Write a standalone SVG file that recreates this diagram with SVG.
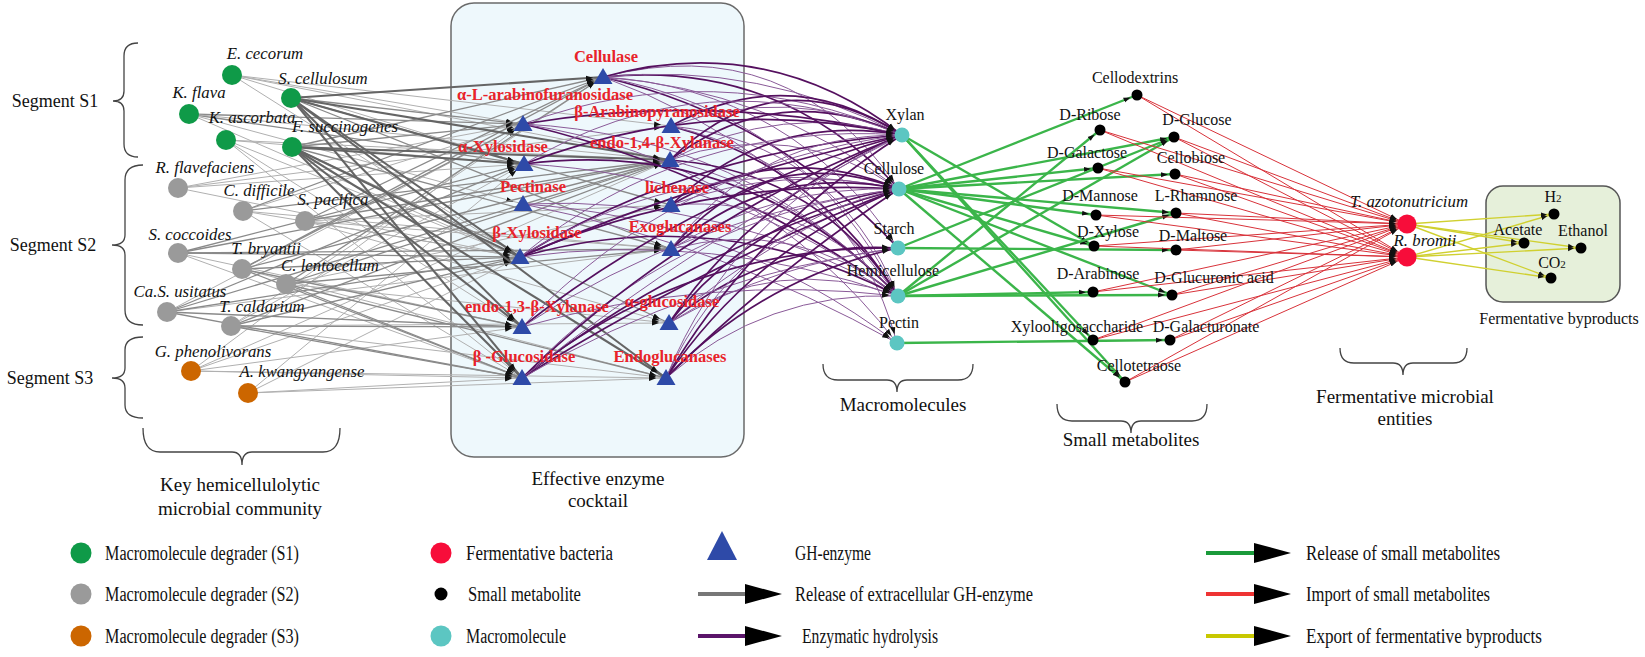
<svg xmlns="http://www.w3.org/2000/svg" width="1645" height="657" viewBox="0 0 1645 657" font-family="'Liberation Serif','Times New Roman',serif">
<style>
text{font-family:'Liberation Serif','Times New Roman',serif;font-size:16px;fill:#111;text-anchor:middle}
.sp{font-style:italic;font-size:16.8px}
.enz{font-weight:bold;fill:#e8232a;font-size:16.5px}
.seg{font-size:18px}
.grp{font-size:19px}
.leg{font-size:20px;text-anchor:start}
.brace{fill:none;stroke:#444;stroke-width:1.3}
.g1{stroke:#b0b0b0;stroke-width:1;marker-end:url(#ag)}
.g2{stroke:#8a8a8a;stroke-width:1.3;marker-end:url(#ag)}
.g3{stroke:#656565;stroke-width:2.1;marker-end:url(#ag)}
.p1{fill:none;stroke:#55105f;stroke-width:1.7;marker-end:url(#ap)}
.p2{fill:none;stroke:#8a5a98;stroke-width:1;marker-end:url(#ap)}
.gr{stroke:#3bb54a;stroke-width:2.4;marker-end:url(#agr)}
.rd{stroke:#d8323a;stroke-width:1;marker-end:url(#ar)}
.yl{stroke:#d0d030;stroke-width:1.4;marker-end:url(#ay)}
.c1{fill:#0f9a48}.c2{fill:#9a9a9a}.c3{fill:#cc6600}
.tri{fill:#2e4aa8}
.mac{fill:#5cc6c2}
.met{fill:#000}
.fer{fill:#f70d3a}
</style>
<defs>
<path id="tri" d="M0,-9 L9.5,7 L-9.5,7 Z"/>
<marker id="ag" viewBox="0 0 17 6" refX="17" refY="3" markerWidth="17" markerHeight="6" orient="auto" markerUnits="userSpaceOnUse"><path d="M0,0.5 L7,3 L0,5.5 Z" fill="#111"/></marker>
<marker id="ap" viewBox="0 0 16 6" refX="16" refY="3" markerWidth="16" markerHeight="6" orient="auto" markerUnits="userSpaceOnUse"><path d="M0,0.5 L7,3 L0,5.5 Z" fill="#111"/></marker>
<marker id="agr" viewBox="0 0 14 6" refX="14" refY="3" markerWidth="14" markerHeight="6" orient="auto" markerUnits="userSpaceOnUse"><path d="M0,0.5 L7,3 L0,5.5 Z" fill="#111"/></marker>
<marker id="ar" viewBox="0 0 18 6" refX="18" refY="3" markerWidth="18" markerHeight="6" orient="auto" markerUnits="userSpaceOnUse"><path d="M0,0.5 L7,3 L0,5.5 Z" fill="#111"/></marker>
<marker id="ay" viewBox="0 0 13 6" refX="13" refY="3" markerWidth="13" markerHeight="6" orient="auto" markerUnits="userSpaceOnUse"><path d="M0,0.5 L6,3 L0,5.5 Z" fill="#111"/></marker>
</defs>
<rect width="1645" height="657" fill="#fff"/>

<g id="enzyme-box"><rect x="451" y="3" width="293" height="454" rx="23" fill="#eef8fc" stroke="#6a6a6a" stroke-width="1.5"/></g>
<g id="byproduct-box"><rect x="1486" y="186" width="134" height="116" rx="17" fill="#e6f0da" stroke="#555" stroke-width="1.5"/></g>

<g id="braces">
<path class="brace" d="M138,43 Q124,43 124,56 L124,91 Q124,101 113,101 Q124,101 124,111 L124,144 Q124,157 138,157"/>
<path class="brace" d="M143,165 Q125,165 125,180 L125,235 Q125,245 112,245 Q125,245 125,255 L125,310 Q125,325 143,325"/>
<path class="brace" d="M143,337 Q125,337 125,350 L125,368 Q125,378 112,378 Q125,378 125,388 L125,405 Q125,418 143,418"/>
<path class="brace" d="M143,428 Q143,452 160,452 L232,452 Q242,452 242,465 Q242,452 252,452 L323,452 Q340,452 340,428"/>
<path class="brace" d="M823,364 Q823,380 838,380 L887,380 Q897,380 897,392 Q897,380 907,380 L958,380 Q973,380 973,364"/>
<path class="brace" d="M1057,404 Q1057,421 1072,421 L1121,421 Q1131,421 1131,433 Q1131,421 1141,421 L1192,421 Q1207,421 1207,404"/>
<path class="brace" d="M1340,348 Q1340,363 1354,363 L1393,363 Q1403,363 1403,375 Q1403,363 1413,363 L1453,363 Q1467,363 1467,348"/>
</g>
<g id="group-labels">
<text class="seg" x="55" y="107">Segment S1</text>
<text class="seg" x="53" y="251">Segment S2</text>
<text class="seg" x="50" y="384">Segment S3</text>
<text class="grp" x="240" y="491">Key hemicellulolytic</text>
<text class="grp" x="240" y="515">microbial community</text>
<text class="grp" x="598" y="485">Effective enzyme</text>
<text class="grp" x="598" y="507">cocktail</text>
<text class="grp" x="903" y="411">Macromolecules</text>
<text class="grp" x="1131" y="446">Small metabolites</text>
<text class="grp" x="1405" y="403">Fermentative microbial</text>
<text class="grp" x="1405" y="425">entities</text>
<text x="1559" y="324">Fermentative byproducts</text>
</g>

<g id="connectors">
<g id="release-gh">
<line x1="232" y1="75" x2="523" y2="124" class="g1"/>
<line x1="232" y1="75" x2="670" y2="160" class="g1"/>
<line x1="232" y1="75" x2="524" y2="164" class="g1"/>
<line x1="232" y1="75" x2="520" y2="257" class="g1"/>
<line x1="232" y1="75" x2="671" y2="126" class="g1"/>
<line x1="189" y1="114" x2="523" y2="124" class="g2"/>
<line x1="189" y1="114" x2="524" y2="164" class="g2"/>
<line x1="189" y1="114" x2="670" y2="160" class="g1"/>
<line x1="189" y1="114" x2="520" y2="257" class="g1"/>
<line x1="189" y1="114" x2="523" y2="204" class="g1"/>
<line x1="226" y1="140" x2="524" y2="164" class="g1"/>
<line x1="226" y1="140" x2="670" y2="160" class="g1"/>
<line x1="226" y1="140" x2="522" y2="378" class="g1"/>
<line x1="226" y1="140" x2="522" y2="327" class="g1"/>
<line x1="226" y1="140" x2="520" y2="257" class="g1"/>
<line x1="178" y1="188" x2="523" y2="124" class="g1"/>
<line x1="178" y1="188" x2="524" y2="164" class="g1"/>
<line x1="178" y1="188" x2="520" y2="257" class="g1"/>
<line x1="178" y1="188" x2="671" y2="126" class="g1"/>
<line x1="243" y1="211" x2="523" y2="124" class="g1"/>
<line x1="243" y1="211" x2="520" y2="257" class="g1"/>
<line x1="243" y1="211" x2="671" y2="249" class="g1"/>
<line x1="243" y1="211" x2="522" y2="378" class="g1"/>
<line x1="305" y1="221" x2="671" y2="205" class="g1"/>
<line x1="305" y1="221" x2="671" y2="249" class="g1"/>
<line x1="305" y1="221" x2="520" y2="257" class="g1"/>
<line x1="305" y1="221" x2="669" y2="323" class="g1"/>
<line x1="178" y1="253" x2="522" y2="378" class="g1"/>
<line x1="178" y1="253" x2="522" y2="327" class="g1"/>
<line x1="242" y1="269" x2="666" y2="378" class="g1"/>
<line x1="286" y1="284" x2="671" y2="205" class="g1"/>
<line x1="286" y1="284" x2="669" y2="323" class="g1"/>
<line x1="167" y1="312" x2="523" y2="124" class="g1"/>
<line x1="167" y1="312" x2="671" y2="249" class="g1"/>
<line x1="231" y1="326" x2="603" y2="77" class="g1"/>
<line x1="231" y1="326" x2="524" y2="164" class="g1"/>
<line x1="231" y1="326" x2="666" y2="378" class="g1"/>
<line x1="231" y1="326" x2="669" y2="323" class="g1"/>
<line x1="191" y1="371" x2="523" y2="124" class="g1"/>
<line x1="191" y1="371" x2="670" y2="160" class="g1"/>
<line x1="191" y1="371" x2="520" y2="257" class="g1"/>
<line x1="191" y1="371" x2="522" y2="327" class="g1"/>
<line x1="191" y1="371" x2="522" y2="378" class="g1"/>
<line x1="191" y1="371" x2="666" y2="378" class="g1"/>
<line x1="248" y1="393" x2="524" y2="164" class="g1"/>
<line x1="248" y1="393" x2="520" y2="257" class="g1"/>
<line x1="248" y1="393" x2="522" y2="378" class="g1"/>
<line x1="248" y1="393" x2="666" y2="378" class="g1"/>
<line x1="291" y1="98" x2="671" y2="249" class="g2"/>
<line x1="291" y1="98" x2="671" y2="205" class="g2"/>
<line x1="291" y1="98" x2="523" y2="124" class="g2"/>
<line x1="292" y1="147" x2="671" y2="249" class="g2"/>
<line x1="292" y1="147" x2="669" y2="323" class="g2"/>
<line x1="292" y1="147" x2="523" y2="124" class="g2"/>
<line x1="292" y1="147" x2="603" y2="77" class="g2"/>
<line x1="243" y1="211" x2="603" y2="77" class="g2"/>
<line x1="243" y1="211" x2="670" y2="160" class="g2"/>
<line x1="305" y1="221" x2="603" y2="77" class="g2"/>
<line x1="305" y1="221" x2="670" y2="160" class="g2"/>
<line x1="178" y1="253" x2="670" y2="160" class="g2"/>
<line x1="178" y1="253" x2="524" y2="164" class="g2"/>
<line x1="178" y1="253" x2="520" y2="257" class="g2"/>
<line x1="178" y1="253" x2="671" y2="249" class="g2"/>
<line x1="242" y1="269" x2="603" y2="77" class="g2"/>
<line x1="242" y1="269" x2="523" y2="124" class="g2"/>
<line x1="242" y1="269" x2="670" y2="160" class="g2"/>
<line x1="242" y1="269" x2="520" y2="257" class="g2"/>
<line x1="242" y1="269" x2="522" y2="327" class="g2"/>
<line x1="242" y1="269" x2="522" y2="378" class="g2"/>
<line x1="286" y1="284" x2="603" y2="77" class="g2"/>
<line x1="286" y1="284" x2="670" y2="160" class="g2"/>
<line x1="286" y1="284" x2="671" y2="249" class="g2"/>
<line x1="286" y1="284" x2="522" y2="378" class="g2"/>
<line x1="286" y1="284" x2="666" y2="378" class="g2"/>
<line x1="167" y1="312" x2="670" y2="160" class="g2"/>
<line x1="167" y1="312" x2="524" y2="164" class="g2"/>
<line x1="167" y1="312" x2="520" y2="257" class="g2"/>
<line x1="167" y1="312" x2="522" y2="327" class="g2"/>
<line x1="167" y1="312" x2="522" y2="378" class="g2"/>
<line x1="231" y1="326" x2="670" y2="160" class="g2"/>
<line x1="231" y1="326" x2="520" y2="257" class="g2"/>
<line x1="231" y1="326" x2="522" y2="327" class="g2"/>
<line x1="231" y1="326" x2="522" y2="378" class="g2"/>
<line x1="291" y1="98" x2="603" y2="77" class="g3"/>
<line x1="291" y1="98" x2="670" y2="160" class="g3"/>
<line x1="291" y1="98" x2="524" y2="164" class="g3"/>
<line x1="291" y1="98" x2="520" y2="257" class="g3"/>
<line x1="291" y1="98" x2="522" y2="378" class="g3"/>
<line x1="291" y1="98" x2="666" y2="378" class="g3"/>
<line x1="291" y1="98" x2="522" y2="327" class="g3"/>
<line x1="292" y1="147" x2="670" y2="160" class="g3"/>
<line x1="292" y1="147" x2="524" y2="164" class="g3"/>
<line x1="292" y1="147" x2="520" y2="257" class="g3"/>
<line x1="292" y1="147" x2="522" y2="378" class="g3"/>
<line x1="292" y1="147" x2="666" y2="378" class="g3"/>
<line x1="292" y1="147" x2="522" y2="327" class="g3"/>
</g>

<g id="hydrolysis">
<path class="p1" d="M603,77 Q779,59 899,189"/>
<path class="p2" d="M603,77 Q768,89 899,189"/>
<path class="p2" d="M603,77 Q790,29 899,189"/>
<path class="p1" d="M603,77 Q767,31 902,135"/>
<path class="p2" d="M603,77 Q761,61 902,135"/>
<path class="p2" d="M603,77 Q793,89 898,248"/>
<path class="p1" d="M603,77 Q776,118 898,248"/>
<path class="p2" d="M603,77 Q805,113 898,296"/>
<path class="p2" d="M603,77 Q783,142 898,296"/>
<path class="p2" d="M523,124 Q745,135 898,296"/>
<path class="p1" d="M523,124 Q728,172 898,296"/>
<path class="p2" d="M523,124 Q715,54 902,135"/>
<path class="p1" d="M523,124 Q714,92 902,135"/>
<path class="p2" d="M523,124 Q754,159 897,343"/>
<path class="p2" d="M671,126 Q835,143 898,296"/>
<path class="p1" d="M671,126 Q818,166 898,296"/>
<path class="p2" d="M671,126 Q849,167 897,343"/>
<path class="p1" d="M671,126 Q789,61 902,135"/>
<path class="p2" d="M671,126 Q788,84 902,135"/>
<path class="p1" d="M670,160 Q778,78 902,135"/>
<path class="p2" d="M670,160 Q781,101 902,135"/>
<path class="p1" d="M670,160 Q776,55 902,135"/>
<path class="p1" d="M670,160 Q818,171 898,296"/>
<path class="p2" d="M670,160 Q804,194 898,296"/>
<path class="p2" d="M670,160 Q792,117 899,189"/>
<path class="p1" d="M524,164 Q709,93 902,135"/>
<path class="p2" d="M524,164 Q706,55 902,135"/>
<path class="p2" d="M524,164 Q731,174 898,296"/>
<path class="p1" d="M524,164 Q744,136 898,296"/>
<path class="p2" d="M523,204 Q731,217 897,343"/>
<path class="p2" d="M523,204 Q721,244 897,343"/>
<path class="p2" d="M523,204 Q724,194 898,296"/>
<path class="p1" d="M671,205 Q781,140 899,189"/>
<path class="p2" d="M671,205 Q783,163 899,189"/>
<path class="p2" d="M671,205 Q807,194 898,296"/>
<path class="p1" d="M671,205 Q769,112 902,135"/>
<path class="p1" d="M520,257 Q696,150 902,135"/>
<path class="p2" d="M520,257 Q687,120 902,135"/>
<path class="p1" d="M520,257 Q705,177 902,135"/>
<path class="p2" d="M520,257 Q714,231 898,296"/>
<path class="p1" d="M520,257 Q717,201 898,296"/>
<path class="p1" d="M520,257 Q701,177 899,189"/>
<path class="p2" d="M520,257 Q696,147 899,189"/>
<path class="p1" d="M671,249 Q770,162 899,189"/>
<path class="p2" d="M671,249 Q776,185 899,189"/>
<path class="p1" d="M671,249 Q764,139 899,189"/>
<path class="p2" d="M671,249 Q758,134 902,135"/>
<path class="p2" d="M671,249 Q796,216 898,296"/>
<path class="p1" d="M522,327 Q693,193 902,135"/>
<path class="p2" d="M522,327 Q677,163 902,135"/>
<path class="p2" d="M522,327 Q707,274 898,296"/>
<path class="p2" d="M522,327 Q694,213 899,189"/>
<path class="p1" d="M669,323 Q768,240 898,248"/>
<path class="p2" d="M669,323 Q776,263 898,248"/>
<path class="p1" d="M669,323 Q757,210 899,189"/>
<path class="p2" d="M669,323 Q771,233 899,189"/>
<path class="p1" d="M669,323 Q757,194 902,135"/>
<path class="p2" d="M669,323 Q777,252 898,296"/>
<path class="p1" d="M522,378 Q692,246 899,189"/>
<path class="p2" d="M522,378 Q676,216 899,189"/>
<path class="p1" d="M522,378 Q701,265 899,189"/>
<path class="p2" d="M522,378 Q697,275 898,248"/>
<path class="p1" d="M522,378 Q687,245 898,248"/>
<path class="p1" d="M522,378 Q688,218 902,135"/>
<path class="p2" d="M522,378 Q700,237 902,135"/>
<path class="p1" d="M666,378 Q754,248 899,189"/>
<path class="p2" d="M666,378 Q735,225 899,189"/>
<path class="p1" d="M666,378 Q773,272 899,189"/>
<path class="p1" d="M666,378 Q755,228 902,135"/>
<path class="p2" d="M666,378 Q735,209 902,135"/>
<path class="p2" d="M666,378 Q766,291 898,296"/>
<path class="p1" d="M666,378 Q762,278 898,248"/>
</g>

<g id="release-metabolites">
<line class="gr" x1="902" y1="135" x2="1094" y2="246"/>
<line class="gr" x1="902" y1="135" x2="1093" y2="340"/>
<line class="gr" x1="902" y1="135" x2="1125" y2="382"/>
<line class="gr" x1="899" y1="189" x2="1137" y2="95"/>
<line class="gr" x1="899" y1="189" x2="1174" y2="137"/>
<line class="gr" x1="899" y1="189" x2="1098" y2="168"/>
<line class="gr" x1="899" y1="189" x2="1175" y2="174"/>
<line class="gr" x1="899" y1="189" x2="1096" y2="215"/>
<line class="gr" x1="899" y1="189" x2="1176" y2="213"/>
<line class="gr" x1="899" y1="189" x2="1172" y2="295"/>
<line class="gr" x1="899" y1="189" x2="1125" y2="382"/>
<line class="gr" x1="899" y1="189" x2="1094" y2="246"/>
<line class="gr" x1="898" y1="248" x2="1174" y2="137"/>
<line class="gr" x1="898" y1="248" x2="1176" y2="250"/>
<line class="gr" x1="898" y1="296" x2="1100" y2="130"/>
<line class="gr" x1="898" y1="296" x2="1174" y2="137"/>
<line class="gr" x1="898" y1="296" x2="1176" y2="213"/>
<line class="gr" x1="898" y1="296" x2="1093" y2="292"/>
<line class="gr" x1="898" y1="296" x2="1172" y2="295"/>
<line class="gr" x1="897" y1="343" x2="1170" y2="340"/>
</g>

<g id="import-metabolites">
<line class="rd" x1="1137" y1="95" x2="1407" y2="224"/><line class="rd" x1="1137" y1="95" x2="1407" y2="257"/>
<line class="rd" x1="1100" y1="130" x2="1407" y2="224"/><line class="rd" x1="1100" y1="130" x2="1407" y2="257"/>
<line class="rd" x1="1174" y1="137" x2="1407" y2="224"/><line class="rd" x1="1174" y1="137" x2="1407" y2="257"/>
<line class="rd" x1="1098" y1="168" x2="1407" y2="224"/><line class="rd" x1="1098" y1="168" x2="1407" y2="257"/>
<line class="rd" x1="1175" y1="174" x2="1407" y2="224"/><line class="rd" x1="1175" y1="174" x2="1407" y2="257"/>
<line class="rd" x1="1096" y1="215" x2="1407" y2="224"/><line class="rd" x1="1096" y1="215" x2="1407" y2="257"/>
<line class="rd" x1="1176" y1="213" x2="1407" y2="224"/><line class="rd" x1="1176" y1="213" x2="1407" y2="257"/>
<line class="rd" x1="1094" y1="246" x2="1407" y2="224"/><line class="rd" x1="1094" y1="246" x2="1407" y2="257"/>
<line class="rd" x1="1176" y1="250" x2="1407" y2="224"/><line class="rd" x1="1176" y1="250" x2="1407" y2="257"/>
<line class="rd" x1="1093" y1="292" x2="1407" y2="224"/><line class="rd" x1="1093" y1="292" x2="1407" y2="257"/>
<line class="rd" x1="1172" y1="295" x2="1407" y2="224"/><line class="rd" x1="1172" y1="295" x2="1407" y2="257"/>
<line class="rd" x1="1093" y1="340" x2="1407" y2="224"/><line class="rd" x1="1093" y1="340" x2="1407" y2="257"/>
<line class="rd" x1="1170" y1="340" x2="1407" y2="224"/><line class="rd" x1="1170" y1="340" x2="1407" y2="257"/>
<line class="rd" x1="1125" y1="382" x2="1407" y2="224"/><line class="rd" x1="1125" y1="382" x2="1407" y2="257"/>
</g>

<g id="export-byproducts">
<line class="yl" x1="1407" y1="224" x2="1554" y2="214"/>
<line class="yl" x1="1407" y1="224" x2="1524" y2="243"/>
<line class="yl" x1="1407" y1="224" x2="1581" y2="248"/>
<line class="yl" x1="1407" y1="224" x2="1551" y2="278"/>
<line class="yl" x1="1407" y1="257" x2="1554" y2="214"/>
<line class="yl" x1="1407" y1="257" x2="1524" y2="243"/>
<line class="yl" x1="1407" y1="257" x2="1581" y2="248"/>
<line class="yl" x1="1407" y1="257" x2="1551" y2="278"/>
</g>
</g>

<g id="n-e-cecorum"><circle class="c1" cx="232" cy="75" r="10"/><text class="sp" x="265" y="59">E. cecorum</text></g>
<g id="n-s-cellulosum"><circle class="c1" cx="291" cy="98" r="10"/><text class="sp" x="323" y="84">S. cellulosum</text></g>
<g id="n-k-flava"><circle class="c1" cx="189" cy="114" r="10"/><text class="sp" x="199" y="98">K. flava</text></g>
<g id="n-k-ascorbata"><circle class="c1" cx="226" cy="140" r="10"/><text class="sp" x="252" y="123">K. ascorbata</text></g>
<g id="n-f-succinogenes"><circle class="c1" cx="292" cy="147" r="10"/><text class="sp" x="345" y="132">F. succinogenes</text></g>
<g id="n-r-flavefaciens"><circle class="c2" cx="178" cy="188" r="10"/><text class="sp" x="205" y="173">R. flavefaciens</text></g>
<g id="n-c-difficile"><circle class="c2" cx="243" cy="211" r="10"/><text class="sp" x="259" y="196">C. difficile</text></g>
<g id="n-s-pacifica"><circle class="c2" cx="305" cy="221" r="10"/><text class="sp" x="333" y="205">S. pacifica</text></g>
<g id="n-s-coccoides"><circle class="c2" cx="178" cy="253" r="10"/><text class="sp" x="190" y="240">S. coccoides</text></g>
<g id="n-t-bryantii"><circle class="c2" cx="242" cy="269" r="10"/><text class="sp" x="266" y="254">T. bryantii</text></g>
<g id="n-c-lentocellum"><circle class="c2" cx="286" cy="284" r="10"/><text class="sp" x="330" y="271">C. lentocellum</text></g>
<g id="n-cas-usitatus"><circle class="c2" cx="167" cy="312" r="10"/><text class="sp" x="180" y="297">Ca.S. usitatus</text></g>
<g id="n-t-caldarium"><circle class="c2" cx="231" cy="326" r="10"/><text class="sp" x="262" y="312">T. caldarium</text></g>
<g id="n-g-phenolivorans"><circle class="c3" cx="191" cy="371" r="10"/><text class="sp" x="213" y="357">G. phenolivorans</text></g>
<g id="n-a-kwangyangense"><circle class="c3" cx="248" cy="393" r="10"/><text class="sp" x="302" y="377">A. kwangyangense</text></g>

<g id="n-cellulase"><use href="#tri" class="tri" x="603" y="77"/><text class="enz" x="606" y="62">Cellulase</text></g>
<g id="n-a-l-arabinofuranosidase"><use href="#tri" class="tri" x="523" y="124"/><text class="enz" x="545" y="100">α-L-arabinofuranosidase</text></g>
<g id="n-b-arabinopyranosidase"><use href="#tri" class="tri" x="671" y="126"/><text class="enz" x="657" y="117">β-Arabinopyranosidase</text></g>
<g id="n-endo-14-xylanase"><use href="#tri" class="tri" x="670" y="160"/><text class="enz" x="662" y="148">endo-1,4-β-Xylanase</text></g>
<g id="n-a-xylosidase"><use href="#tri" class="tri" x="524" y="164"/><text class="enz" x="503" y="152">α-Xylosidase</text></g>
<g id="n-pectinase"><use href="#tri" class="tri" x="523" y="204"/><text class="enz" x="533" y="192">Pectinase</text></g>
<g id="n-lichenase"><use href="#tri" class="tri" x="671" y="205"/><text class="enz" x="677" y="193">lichenase</text></g>
<g id="n-b-xylosidase"><use href="#tri" class="tri" x="520" y="257"/><text class="enz" x="537" y="238">β-Xylosidase</text></g>
<g id="n-exoglucanases"><use href="#tri" class="tri" x="671" y="249"/><text class="enz" x="680" y="232">Exoglucanases</text></g>
<g id="n-endo-13-xylanase"><use href="#tri" class="tri" x="522" y="327"/><text class="enz" x="537" y="312">endo-1,3-β-Xylanase</text></g>
<g id="n-a-glucosidase"><use href="#tri" class="tri" x="669" y="323"/><text class="enz" x="672" y="307">α-glucosidase</text></g>
<g id="n-b-glucosidase"><use href="#tri" class="tri" x="522" y="378"/><text class="enz" x="524" y="362">β -Glucosidase</text></g>
<g id="n-endoglucanases"><use href="#tri" class="tri" x="666" y="378"/><text class="enz" x="670" y="362">Endoglucanases</text></g>

<g id="n-xylan"><circle class="mac" cx="902" cy="135" r="7.5"/><text x="905" y="120">Xylan</text></g>
<g id="n-cellulose"><circle class="mac" cx="899" cy="189" r="7.5"/><text x="894" y="174">Cellulose</text></g>
<g id="n-starch"><circle class="mac" cx="898" cy="248" r="7.5"/><text x="894" y="234">Starch</text></g>
<g id="n-hemicellulose"><circle class="mac" cx="898" cy="296" r="7.5"/><text x="893" y="276">Hemicellulose</text></g>
<g id="n-pectin"><circle class="mac" cx="897" cy="343" r="7.5"/><text x="899" y="328">Pectin</text></g>

<g id="n-cellodextrins"><circle class="met" cx="1137" cy="95" r="5.5"/><text x="1135" y="83">Cellodextrins</text></g>
<g id="n-d-ribose"><circle class="met" cx="1100" cy="130" r="5.5"/><text x="1090" y="120">D-Ribose</text></g>
<g id="n-d-glucose"><circle class="met" cx="1174" cy="137" r="5.5"/><text x="1197" y="125">D-Glucose</text></g>
<g id="n-d-galactose"><circle class="met" cx="1098" cy="168" r="5.5"/><text x="1087" y="158">D-Galactose</text></g>
<g id="n-cellobiose"><circle class="met" cx="1175" cy="174" r="5.5"/><text x="1191" y="163">Cellobiose</text></g>
<g id="n-d-mannose"><circle class="met" cx="1096" cy="215" r="5.5"/><text x="1100" y="201">D-Mannose</text></g>
<g id="n-l-rhamnose"><circle class="met" cx="1176" cy="213" r="5.5"/><text x="1196" y="201">L-Rhamnose</text></g>
<g id="n-d-xylose"><circle class="met" cx="1094" cy="246" r="5.5"/><text x="1108" y="237">D-Xylose</text></g>
<g id="n-d-maltose"><circle class="met" cx="1176" cy="250" r="5.5"/><text x="1193" y="241">D-Maltose</text></g>
<g id="n-d-arabinose"><circle class="met" cx="1093" cy="292" r="5.5"/><text x="1098" y="279">D-Arabinose</text></g>
<g id="n-d-glucuronic-acid"><circle class="met" cx="1172" cy="295" r="5.5"/><text x="1214" y="283">D-Glucuronic acid</text></g>
<g id="n-xylooligosaccharide"><circle class="met" cx="1093" cy="340" r="5.5"/><text x="1077" y="332">Xylooligosaccharide</text></g>
<g id="n-d-galacturonate"><circle class="met" cx="1170" cy="340" r="5.5"/><text x="1206" y="332">D-Galacturonate</text></g>
<g id="n-cellotetraose"><circle class="met" cx="1125" cy="382" r="5.5"/><text x="1139" y="371">Cellotetraose</text></g>

<g id="n-t-azotonutricium"><circle class="fer" cx="1407" cy="224" r="9.5"/><text class="sp" x="1409" y="207">T. azotonutricium</text></g>
<g id="n-r-bromii"><circle class="fer" cx="1407" cy="257" r="9.5"/><text class="sp" x="1425" y="246">R. bromii</text></g>

<g id="n-h2"><circle class="met" cx="1554" cy="214" r="5.5"/><text x="1553" y="202">H<tspan font-size="11">2</tspan></text></g>
<g id="n-acetate"><circle class="met" cx="1524" cy="243" r="5.5"/><text x="1518" y="235">Acetate</text></g>
<g id="n-ethanol"><circle class="met" cx="1581" cy="248" r="5.5"/><text x="1583" y="236">Ethanol</text></g>
<g id="n-co2"><circle class="met" cx="1551" cy="278" r="5.5"/><text x="1552" y="268">CO<tspan font-size="11">2</tspan></text></g>

<g id="legend">
<circle class="c1" cx="81" cy="553" r="10.5"/><text class="leg" x="105" y="560" textLength="194" lengthAdjust="spacingAndGlyphs">Macromolecule degrader (S1)</text>
<circle class="c2" cx="81" cy="594" r="10.5"/><text class="leg" x="105" y="601" textLength="194" lengthAdjust="spacingAndGlyphs">Macromolecule degrader (S2)</text>
<circle class="c3" cx="81" cy="636" r="10.5"/><text class="leg" x="105" y="643" textLength="194" lengthAdjust="spacingAndGlyphs">Macromolecule degrader (S3)</text>
<circle class="fer" cx="441" cy="553" r="10.5"/><text class="leg" x="466" y="560" textLength="147" lengthAdjust="spacingAndGlyphs">Fermentative bacteria</text>
<circle class="met" cx="441" cy="594" r="6.5"/><text class="leg" x="468" y="601" textLength="113" lengthAdjust="spacingAndGlyphs">Small metabolite</text>
<circle class="mac" cx="441" cy="636" r="10.5"/><text class="leg" x="466" y="643" textLength="100" lengthAdjust="spacingAndGlyphs">Macromolecule</text>
<path class="tri" d="M722,531 L737,560 L707,560 Z"/><text class="leg" x="795" y="560" textLength="76" lengthAdjust="spacingAndGlyphs">GH-enzyme</text>
<line x1="698" y1="594" x2="747" y2="594" stroke="#777" stroke-width="4"/><path d="M745,584 L782,594 L745,604 Z" fill="#000"/>
<text class="leg" x="795" y="601" textLength="238" lengthAdjust="spacingAndGlyphs">Release of extracellular GH-enzyme</text>
<line x1="698" y1="636" x2="747" y2="636" stroke="#5a1469" stroke-width="4"/><path d="M745,626 L782,636 L745,646 Z" fill="#000"/>
<text class="leg" x="802" y="643" textLength="136" lengthAdjust="spacingAndGlyphs">Enzymatic hydrolysis</text>
<line x1="1206" y1="553" x2="1256" y2="553" stroke="#1a9a3a" stroke-width="4"/><path d="M1254,543 L1291,553 L1254,563 Z" fill="#000"/>
<text class="leg" x="1306" y="560" textLength="194" lengthAdjust="spacingAndGlyphs">Release of small metabolites</text>
<line x1="1206" y1="594" x2="1256" y2="594" stroke="#ee3333" stroke-width="4"/><path d="M1254,584 L1291,594 L1254,604 Z" fill="#000"/>
<text class="leg" x="1306" y="601" textLength="184" lengthAdjust="spacingAndGlyphs">Import of small metabolites</text>
<line x1="1206" y1="636" x2="1256" y2="636" stroke="#c8c800" stroke-width="4"/><path d="M1254,626 L1291,636 L1254,646 Z" fill="#000"/>
<text class="leg" x="1306" y="643" textLength="236" lengthAdjust="spacingAndGlyphs">Export of fermentative byproducts</text>
</g>
</svg>
